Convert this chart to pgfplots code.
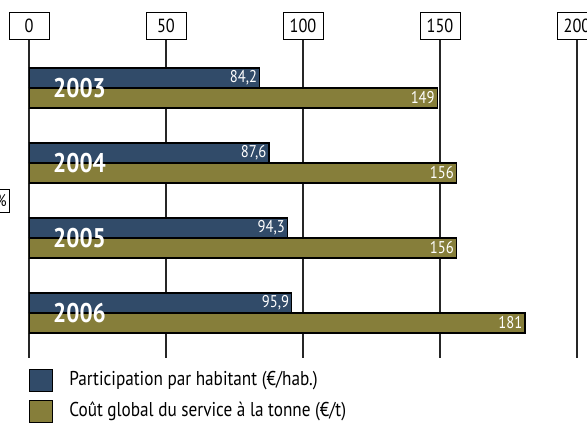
\documentclass[border=0pt]{standalone}
\usepackage{fontspec}
\setmainfont{PT Sans}[FakeStretch=0.86]
\usepackage{pgfplots}
\pgfplotsset{compat=1.18}
\definecolor{cblue}{HTML}{314B69}
\definecolor{colive}{HTML}{867E3A}
\begin{document}
\begin{tikzpicture}
\useasboundingbox (-29pt,-65pt) rectangle (558pt,358pt);
\clip (-29pt,-65pt) rectangle (558pt,358pt);
\begin{axis}[
  at={(0pt,0pt)}, anchor=south west,
  scale only axis, width=548pt, height=318pt,
  xmin=0, xmax=200, ymin=2002.36, ymax=2006.6, y dir=reverse,
  xbar, bar width=20pt,
  axis line style={draw=none},
  major tick length=0pt,
  ytick=\empty,
  xtick={0,50,100,150,200},
  xmajorgrids, grid style={black!85, line width=1.1pt},
  xticklabel pos=upper,
  /pgf/number format/assume math mode=true,
  xticklabel style={draw=black, line width=0.8pt, minimum width=40pt, minimum height=27pt, inner sep=0pt, anchor=south, font=\fontsize{19}{19}\selectfont},
  nodes near coords={\pgfmathprintnumber[use comma,fixed,precision=1]{\pgfplotspointmeta}},
  point meta=x,
  nodes near coords style={anchor=east, xshift=-2pt, text=white, inner sep=0pt, font=\fontsize{17}{17}\selectfont},
  legend style={at={(axis description cs:0,0)}, anchor=north west, yshift=-11pt, draw=none, fill=none, inner sep=0pt, row sep=8pt, font=\fontsize{20}{20}\selectfont, nodes={inner sep=0pt, text height=14pt, text depth=4pt}},
  legend cell align=left,
  legend image code/.code={\draw[#1, line width=1pt] (0pt,-11pt) rectangle (23pt,11pt); \path (39pt,0pt);},
]
\addplot[fill=cblue, draw=black, line width=1.2pt, bar shift=10pt] coordinates {(84.2,2003) (87.6,2004) (94.3,2005) (95.9,2006)};
\addplot[fill=colive, draw=black, line width=1.2pt, bar shift=-10pt] coordinates {(149,2003) (156,2004) (156,2005) (181,2006)};
\legend{Participation par habitant (€/hab.), Coût global du service à la tonne (€/t)}
\foreach \yr in {2003,2004,2005,2006}{
  \edef\tmp{\noexpand\node[anchor=west, inner sep=0pt, xshift=24pt, text=white, font=\noexpand\fontsize{27}{27}\noexpand\selectfont\noexpand\bfseries] at (axis cs:0,\yr) {\yr};}\tmp
}
\end{axis}
\node[draw=black, line width=0.8pt, anchor=east, minimum height=23pt, inner sep=3pt, font=\fontsize{17}{17}\selectfont] at (-19pt,157.5pt) {\%};
\end{tikzpicture}
\end{document}
